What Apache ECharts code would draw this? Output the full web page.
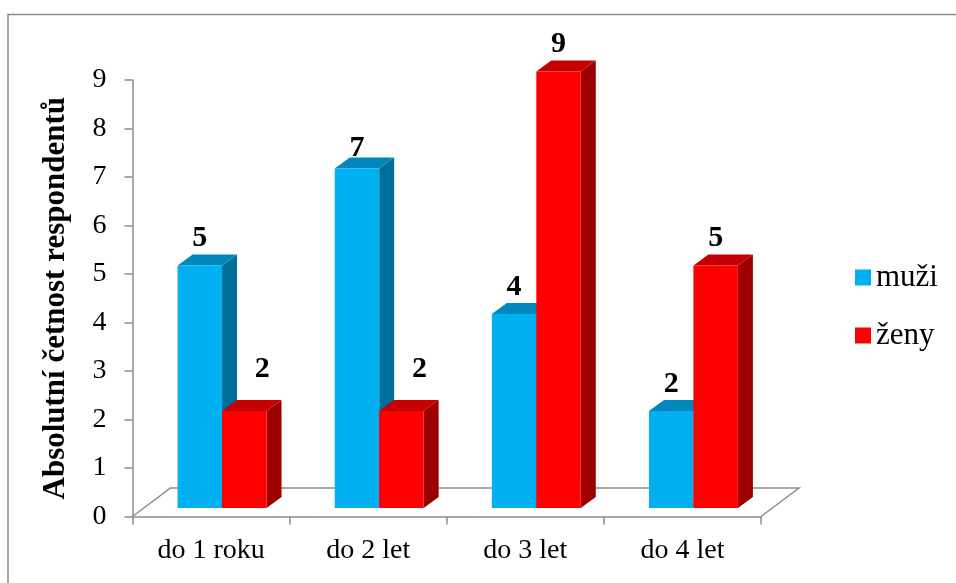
<!DOCTYPE html>
<html>
<head>
<meta charset="utf-8">
<script src="https://cdn.jsdelivr.net/npm/echarts@6/dist/echarts.min.js"></script>
<style>
html,body{margin:0;padding:0;background:#fff;}
#c{width:956px;height:583px;}
</style>
</head>
<body>
<div id="c"></div>
<script>
const categories = ['do 1 roku', 'do 2 let', 'do 3 let', 'do 4 let'];
const muzi = [5, 7, 4, 2];
const zeny = [2, 2, 9, 5];
const seriesNames = ['muži', 'ženy'];
const yTicks = [0, 1, 2, 3, 4, 5, 6, 7, 8, 9];

// label placement tweaks (pixels), as in the original layout
const muziLabelNudge = [[0, 0], [0, 7], [0, 0], [0, 0]];
const zenyLabelNudge = [[18, -15], [18, -15], [0, 0], [0, 0]];

const FONT = '"Liberation Serif", "Times New Roman", serif';
const AXIS_COLOR = '#8c8c8c';
const palette = [
  { front: '#00B0F0', top: '#0087BC', side: '#006E99' },
  { front: '#FF0000', top: '#C40000', side: '#9C0000' }
];
const nudges = [muziLabelNudge, zenyLabelNudge];
const SHIFT_X = 11, SHIFT_Y = -8.5;   // bar row position inside floor
const DEPTH_X = 15, DEPTH_Y = -11;    // bar depth
const FLOOR_X = 38, FLOOR_Y = -28.5;  // floor depth
const BAR_FRAC = 0.283;
const LABEL_LIFT = 27;

function barRender(sIdx) {
  return function (params, api) {
    const i = api.value(0), v = api.value(1);
    const base = api.coord([i, 0]);
    const topC = api.coord([i, v]);
    const band = api.size([1, 0])[0];
    const w = band * BAR_FRAC;
    const cx = base[0] + SHIFT_X;
    const left = sIdx === 0 ? cx - w : cx;
    const right = left + w;
    const yb = base[1] + SHIFT_Y;
    const yt = topC[1] + SHIFT_Y;
    const c = palette[sIdx];
    const nd = nudges[sIdx][params.dataIndex] || [0, 0];
    return {
      type: 'group',
      children: [
        { type: 'polygon', shape: { points: [[right, yt], [right + DEPTH_X, yt + DEPTH_Y], [right + DEPTH_X, yb + DEPTH_Y], [right, yb]] }, style: { fill: c.side } },
        { type: 'polygon', shape: { points: [[left, yt], [right, yt], [right + DEPTH_X, yt + DEPTH_Y], [left + DEPTH_X, yt + DEPTH_Y]] }, style: { fill: c.top } },
        { type: 'rect', shape: { x: left, y: yt, width: w, height: yb - yt }, style: { fill: c.front } },
        { type: 'text', z2: 10, style: { text: String(v), x: left + w / 2 + nd[0], y: yt - LABEL_LIFT + nd[1], align: 'center', verticalAlign: 'middle', font: 'bold 30px ' + FONT, fill: '#000' } }
      ]
    };
  };
}

function floorRender(params, api) {
  const band = api.size([1, 0])[0];
  const first = api.coord([0, 0]);
  const last = api.coord([categories.length - 1, 0]);
  const x0 = first[0] - band / 2, x1 = last[0] + band / 2, y = first[1];
  return {
    type: 'polyline',
    shape: { points: [[x0, y], [x0 + FLOOR_X, y + FLOOR_Y], [x1 + FLOOR_X, y + FLOOR_Y], [x1, y]] },
    style: { stroke: AXIS_COLOR, lineWidth: 1.5, fill: null }
  };
}

const chart = echarts.init(document.getElementById('c'), null, { renderer: 'canvas' });
chart.setOption({
  animation: false,
  backgroundColor: '#fff',
  graphic: [{
    type: 'rect', shape: { x: 8, y: 14.5, width: 1000, height: 1000 },
    style: { fill: null, stroke: '#8a8a8a', lineWidth: 1.5 }, z: -10, silent: true
  }],
  grid: { left: 132.5, right: 195, top: 80, bottom: 66.5, containLabel: false },
  legend: {
    data: seriesNames, orient: 'vertical', left: 855, top: 262,
    itemWidth: 16, itemHeight: 16, itemGap: 27, icon: 'rect', padding: 0,
    textStyle: { fontSize: 31, fontFamily: FONT, color: '#000', lineHeight: 24 }
  },
  xAxis: {
    type: 'category', data: categories,
    axisLine: { lineStyle: { color: AXIS_COLOR, width: 1.5 } },
    axisTick: { show: true, length: 8, lineStyle: { color: AXIS_COLOR, width: 1.5 } },
    axisLabel: { fontSize: 28, fontFamily: FONT, color: '#000', margin: 20 }
  },
  yAxis: {
    type: 'value', min: yTicks[0], max: yTicks[yTicks.length - 1], interval: 1,
    name: 'Absolutní četnost respondentů', nameLocation: 'middle', nameRotate: 90, nameGap: 61,
    nameTextStyle: { fontSize: 31, fontWeight: 'bold', fontFamily: FONT, color: '#000' },
    axisLine: { show: true, lineStyle: { color: AXIS_COLOR, width: 1.5 } },
    axisTick: { show: true, length: 8, lineStyle: { color: AXIS_COLOR, width: 1.5 } },
    splitLine: { show: false },
    axisLabel: { fontSize: 28, fontFamily: FONT, color: '#000', margin: 26 }
  },
  series: [
    { type: 'custom', name: 'floor', data: [[0, 0]], renderItem: floorRender, silent: true, z: 1 },
    { type: 'custom', name: seriesNames[0], data: muzi.map((v, i) => [i, v]), renderItem: barRender(0), itemStyle: { color: palette[0].front }, z: 2 },
    { type: 'custom', name: seriesNames[1], data: zeny.map((v, i) => [i, v]), renderItem: barRender(1), itemStyle: { color: palette[1].front }, z: 3 }
  ]
});
</script>
</body>
</html>
